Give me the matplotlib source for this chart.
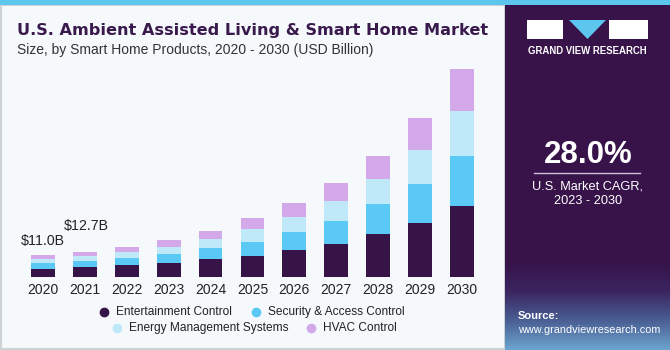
import numpy as np
import matplotlib.pyplot as plt
from matplotlib.patches import Rectangle, Polygon
from matplotlib.lines import Line2D
from matplotlib.colors import LinearSegmentedColormap

years = ['2020', '2021', '2022', '2023', '2024', '2025', '2026', '2027', '2028', '2029', '2030']
entertainment = [4.2, 4.9, 6.0, 7.0, 8.85, 10.65, 13.35, 16.5, 21.35, 27.0, 35.5]
security = [2.9, 3.3, 3.65, 4.65, 5.65, 6.85, 9.15, 11.7, 15.0, 19.35, 25.0]
energy = [1.9, 2.4, 2.7, 3.5, 4.65, 6.35, 7.65, 10.0, 12.85, 17.0, 22.5]
hvac = [2.0, 2.1, 2.65, 3.2, 3.85, 5.5, 6.7, 9.0, 11.5, 16.15, 21.0]
series_names = ['Entertainment Control', 'Security & Access Control',
                'Energy Management Systems', 'HVAC Control']
colors = ['#371447', '#5BC9F5', '#BFE9F9', '#D4A9EA']
value_labels = ['$11.0B', '$12.7B']

plt.rcParams['font.family'] = ['Liberation Sans', 'DejaVu Sans']

W, H = 670, 350
fig = plt.figure(figsize=(W / 100, H / 100), dpi=100)
fig.patch.set_facecolor('#F5F9FC')


def fx(px):
    return px / W


def fy(py):
    return 1 - py / H


# thin border round the left panel
fig.add_artist(Rectangle((fx(0.8), fy(349.2)), fx(504), 344 / H, transform=fig.transFigure,
                         facecolor='none', edgecolor='#CDD2D6', lw=1.5, zorder=0))

# right panel
fig.add_artist(Rectangle((fx(505), 0), fx(165), 1, transform=fig.transFigure,
                         facecolor='#37134A', edgecolor='none', zorder=0))
grad = fig.add_axes([fx(505), 0, fx(165), fy(262)], zorder=1)
g = np.linspace(0, 1, 100)[:, None]
cmap = LinearSegmentedColormap.from_list('g', ['#37134A', '#3B2560', '#4A5F94', '#6CA4CF'])
grad.imshow(g, aspect='auto', cmap=cmap, extent=[0, 1, 0, 1])
grad.set_axis_off()
# top strip
fig.add_artist(Rectangle((0, fy(5)), 1, 5 / H, transform=fig.transFigure,
                         facecolor='#5CC6EE', edgecolor='none', zorder=2))

# logo
fig.add_artist(Rectangle((fx(527), fy(39)), fx(36), 19 / H, transform=fig.transFigure,
                         facecolor='white', edgecolor='none', zorder=3))
fig.add_artist(Rectangle((fx(609), fy(39)), fx(39), 19 / H, transform=fig.transFigure,
                         facecolor='white', edgecolor='none', zorder=3))
fig.add_artist(Polygon([(fx(569), fy(20)), (fx(606), fy(20)), (fx(587.5), fy(39))],
                       transform=fig.transFigure, facecolor='#5CC6EE', edgecolor='none', zorder=3))
fig.text(fx(587.5), fy(51), 'GRAND VIEW RESEARCH', color='white', fontsize=6.9,
         fontweight='bold', ha='center', va='center')

fig.text(fx(588), fy(155), '28.0%', color='white', fontsize=22.5, fontweight='bold',
         ha='center', va='center')
fig.add_artist(Line2D([fx(534), fx(640)], [fy(173), fy(173)], transform=fig.transFigure,
                      color='#CFC3DA', lw=1))
fig.text(fx(588), fy(186), 'U.S. Market CAGR,', color='white', fontsize=9.2,
         ha='center', va='center')
fig.text(fx(588), fy(201), '2023 - 2030', color='white', fontsize=9.2,
         ha='center', va='center')
fig.text(fx(518), fy(316), 'Source:', color='white', fontsize=8, fontweight='bold',
         ha='left', va='center', zorder=5)
fig.text(fx(518), fy(330), 'www.grandviewresearch.com', color='white', fontsize=7.8,
         ha='left', va='center', zorder=5)

# titles
fig.text(fx(17), fy(30), 'U.S. Ambient Assisted Living & Smart Home Market', color='#3A1A4C',
         fontsize=11.6, fontweight='bold', family='DejaVu Sans', ha='left', va='center')
fig.text(fx(17), fy(50), 'Size, by Smart Home Products, 2020 - 2030 (USD Billion)',
         color='#333333', fontsize=10, ha='left', va='center')

# bars
ax = fig.add_axes([fx(21.9), fy(277), fx(483 - 21.9), 220 / H])
ax.set_facecolor('none')
x = np.arange(len(years))
bottom = np.zeros(len(years))
for vals, c in zip([entertainment, security, energy, hvac], colors):
    ax.bar(x, vals, width=0.57, bottom=bottom, color=c, edgecolor='none')
    bottom += np.array(vals)
ax.set_xlim(-0.5, 10.5)
ax.set_ylim(0, 110)
ax.set_xticks(x)
ax.set_xticklabels(years, fontsize=10, color='#222222')
ax.tick_params(axis='x', length=0, pad=4)
ax.set_yticks([])
for s in ax.spines.values():
    s.set_visible(False)
ax.text(x[0], bottom[0] + 7, value_labels[0], ha='center', va='center', fontsize=10.2,
        color='#222222')
ax.text(x[1] + 0.03, bottom[1] + 12.8, value_labels[1], ha='center', va='center', fontsize=10.2,
        color='#222222')

# legend
leg_items = [(104, 312, 0), (256, 312, 1), (117, 328, 2), (311, 328, 3)]
for px, py, k in leg_items:
    fig.add_artist(Line2D([fx(px)], [fy(py)], transform=fig.transFigure, marker='o',
                          markersize=6, color=colors[k], linestyle='none'))
    fig.text(fx(px + 12), fy(py), series_names[k], fontsize=8.6, color='#222222',
             ha='left', va='center')

fig.savefig('out.png', dpi=100, facecolor=fig.get_facecolor())
